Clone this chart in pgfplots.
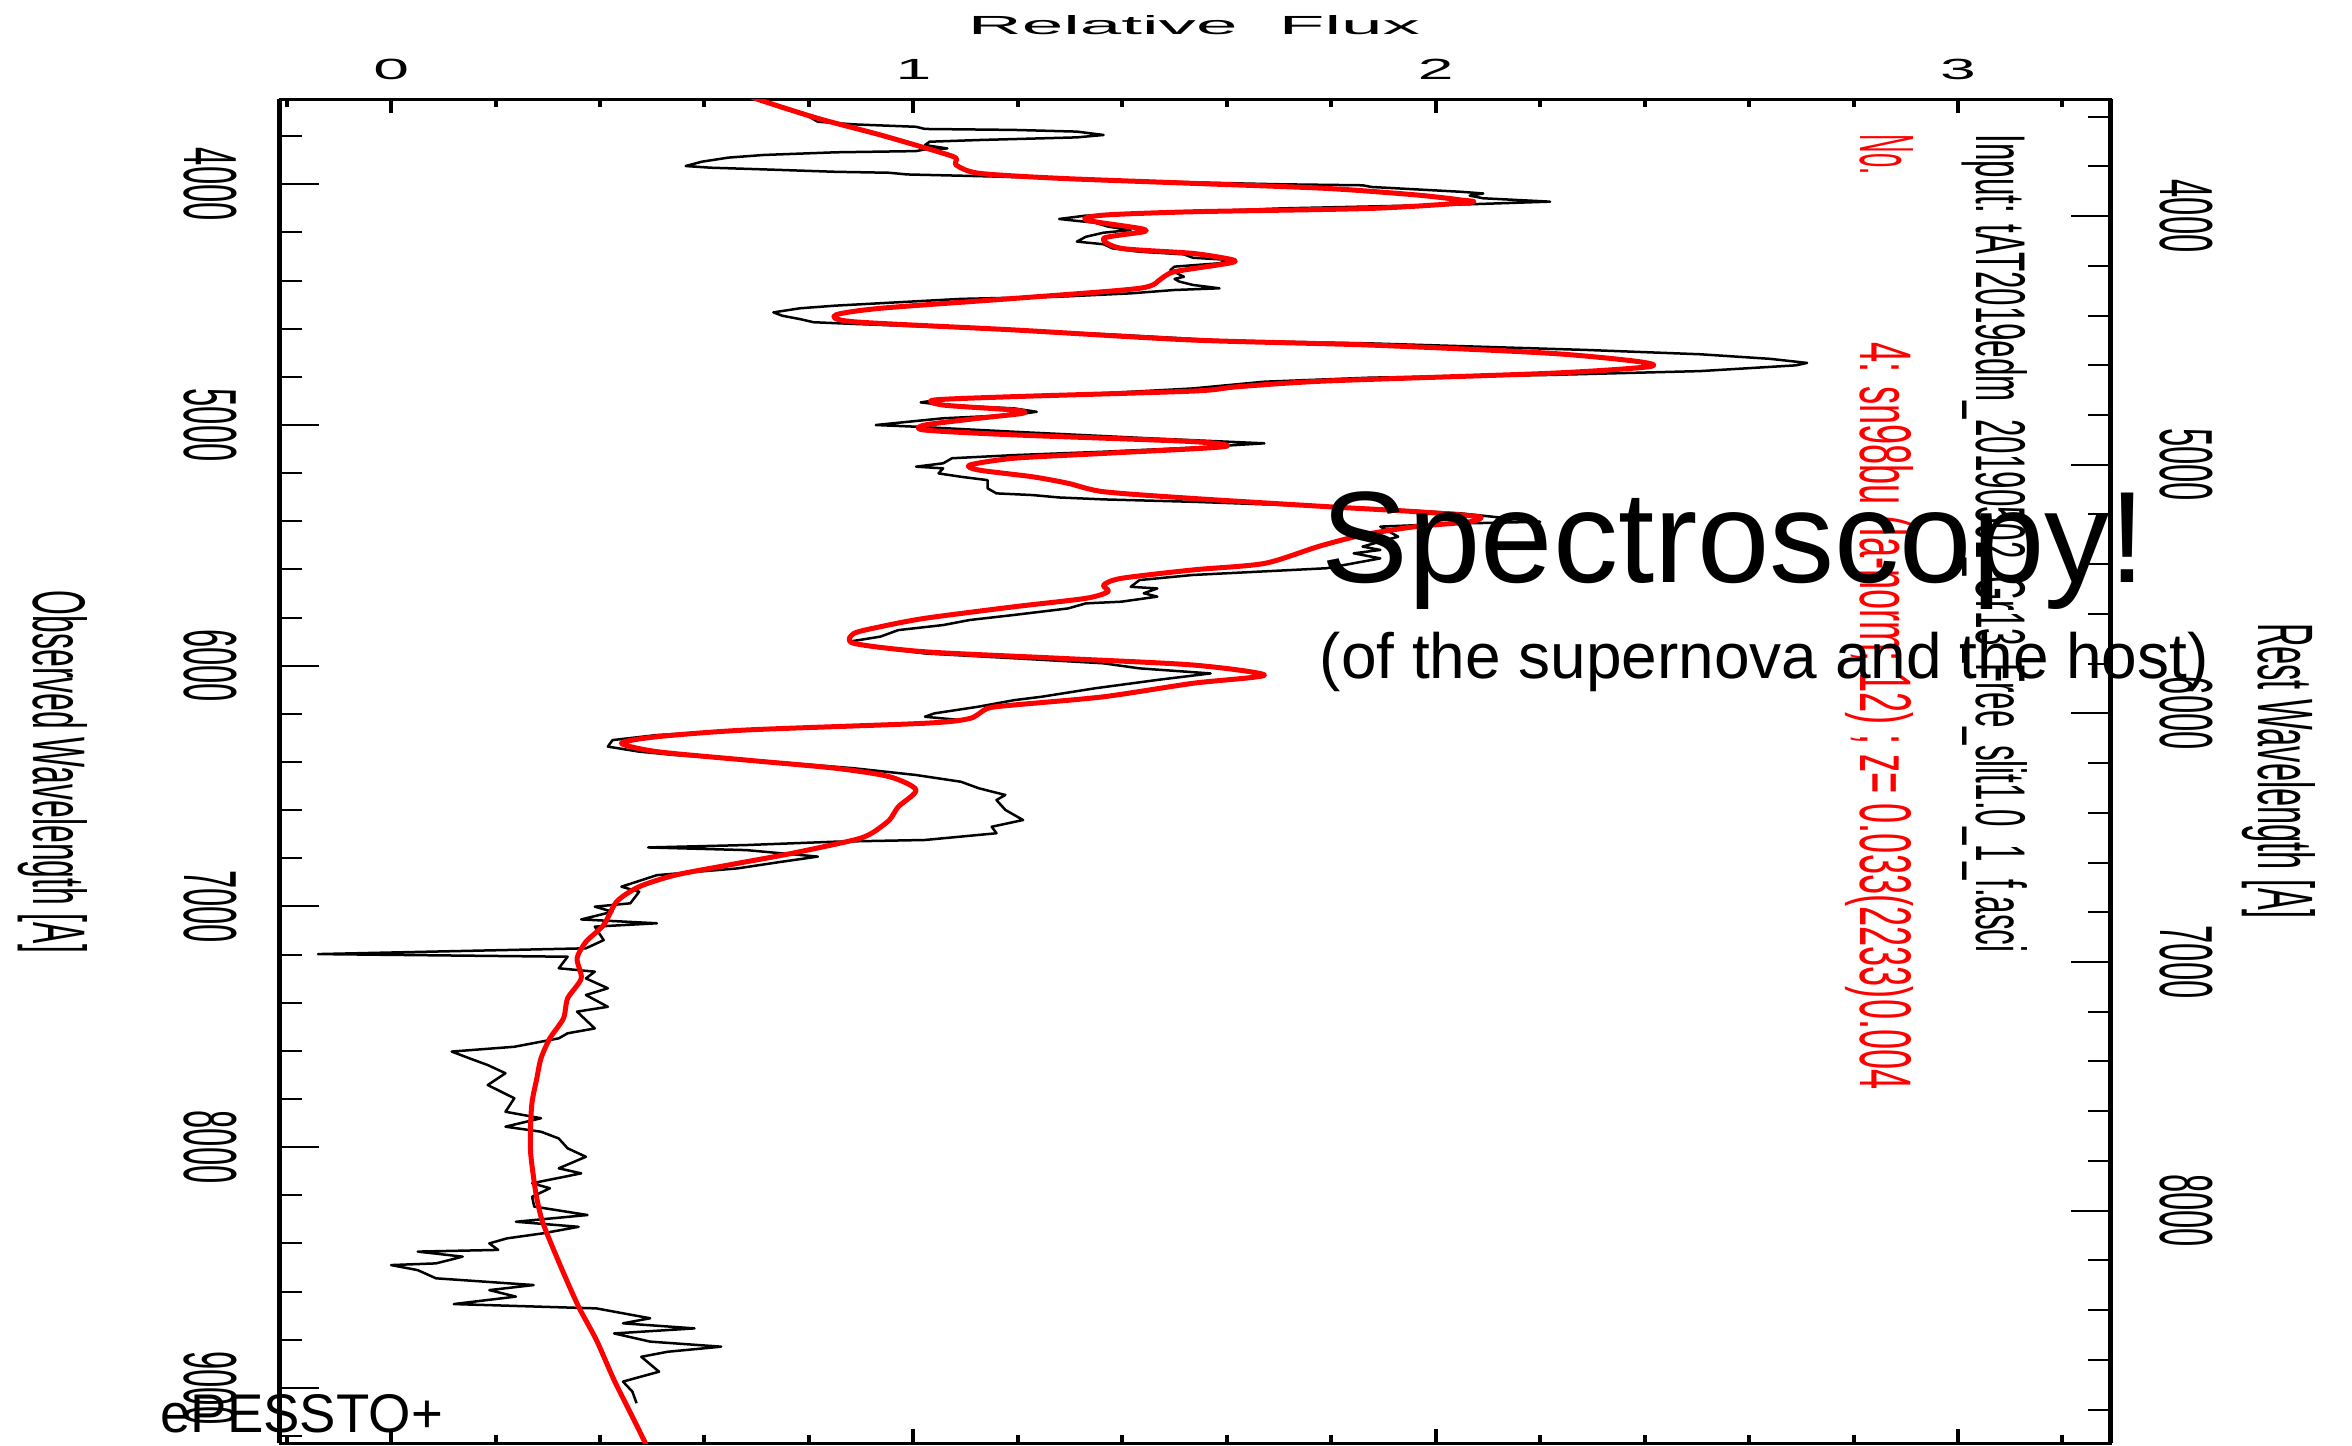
\documentclass[border=0pt]{standalone}
\usepackage{graphicx}
\usepackage{pgfplots}
\pgfplotsset{compat=1.18}
\usepackage{pgfplotstable}
\usepackage{fontspec}
\setmainfont{Liberation Sans}
\definecolor{tplred}{RGB}{255,0,0}
\newcommand\tickyfont{\fontsize{21.4pt}{21.4pt}\selectfont}
\newcommand\tickxfont{\fontsize{8.3pt}{8.3pt}\selectfont}

\pgfplotstableread{
f w
0.800 3719
0.817 3740
0.886 3751
1.005 3761
1.022 3770
1.193 3774
1.313 3781
1.364 3795
1.313 3805
1.125 3816
1.031 3823
1.022 3837
1.065 3851
1.022 3855
1.005 3862
0.851 3867
0.714 3878
0.646 3889
0.595 3906
0.564 3924
0.612 3931
0.714 3938
0.851 3948
0.954 3952
0.988 3959
1.125 3966
1.279 3975
1.535 3992
1.705 4000
1.860 4004
1.877 4011
2.048 4031
2.091 4038
2.065 4047
2.091 4058
2.219 4072
2.065 4083
1.705 4100
1.450 4121
1.330 4130
1.279 4144
1.313 4152
1.347 4159
1.373 4176
1.416 4190
1.364 4201
1.330 4218
1.313 4238
1.364 4249
1.381 4266
1.433 4280
1.518 4291
1.535 4305
1.603 4314
1.586 4328
1.500 4342
1.492 4356
1.518 4384
1.500 4393
1.509 4404
1.535 4418
1.586 4432
1.500 4439
1.416 4453
1.279 4467
1.091 4476
0.851 4504
0.783 4515
0.732 4532
0.749 4546
0.783 4560
0.809 4573
0.886 4580
1.022 4591
1.193 4605
1.398 4626
1.603 4650
1.877 4661
2.287 4688
2.506 4706
2.640 4725
2.711 4742
2.690 4752
2.506 4776
2.219 4792
1.877 4803
1.672 4820
1.535 4848
1.364 4868
1.193 4882
1.057 4892
1.014 4906
1.057 4917
1.193 4931
1.236 4945
1.193 4958
1.057 4972
0.928 5000
1.005 5007
1.193 5028
1.450 5055
1.672 5076
1.535 5094
1.364 5111
1.193 5125
1.074 5138
1.057 5159
1.005 5173
1.057 5180
1.048 5201
1.091 5215
1.142 5229
1.142 5263
1.159 5284
1.228 5291
1.279 5301
1.364 5309
1.535 5319
1.705 5332
1.877 5346
2.048 5367
2.200 5402
2.048 5409
1.894 5422
1.928 5464
1.860 5505
1.894 5519
1.843 5533
1.894 5554
1.791 5595
1.535 5623
1.433 5644
1.416 5672
1.467 5679
1.441 5699
1.467 5713
1.398 5734
1.330 5741
1.296 5762
1.193 5789
1.108 5810
1.057 5831
0.971 5852
0.937 5879
0.877 5900
0.920 5921
1.022 5949
1.193 5969
1.364 5990
1.433 6011
1.569 6032
1.467 6059
1.347 6094
1.245 6129
1.193 6143
1.125 6170
1.040 6198
1.022 6212
1.091 6226
1.022 6239
0.680 6267
0.509 6288
0.424 6309
0.415 6336
0.475 6357
0.543 6371
0.732 6399
0.886 6426
1.005 6454
1.091 6482
1.125 6509
1.176 6537
1.159 6558
1.176 6599
1.210 6641
1.150 6669
1.159 6696
1.022 6724
0.851 6731
0.680 6745
0.492 6755
0.680 6766
0.817 6793
0.749 6814
0.663 6842
0.509 6870
0.441 6918
0.475 6939
0.458 6987
0.390 7001
0.424 7022
0.364 7054
0.509 7070
0.390 7084
0.407 7140
0.373 7174
-0.140 7198
0.338 7209
0.321 7257
0.390 7271
0.373 7299
0.415 7340
0.373 7368
0.415 7417
0.356 7437
0.373 7472
0.390 7507
0.338 7527
0.321 7548
0.270 7569
0.236 7583
0.116 7603
0.150 7631
0.185 7659
0.219 7693
0.185 7742
0.236 7797
0.219 7853
0.287 7880
0.219 7915
0.287 7936
0.321 7964
0.338 8005
0.373 8040
0.321 8088
0.364 8109
0.270 8150
0.304 8171
0.270 8206
0.274 8247
0.376 8282
0.239 8310
0.359 8331
0.291 8358
0.222 8379
0.188 8400
0.205 8427
0.051 8434
0.137 8455
0.086 8483
0.000 8490
0.051 8511
0.086 8545
0.273 8573
0.188 8594
0.239 8621
0.120 8652
0.393 8670
0.496 8711
0.444 8732
0.581 8753
0.427 8774
0.496 8808
0.632 8829
0.530 8850
0.479 8871
0.513 8933
0.444 8974
0.462 9016
0.470 9064
}\obsdata

\pgfplotstableread{
f w
0.680 3620
0.697 3643
0.817 3726
0.937 3795
1.057 3871
1.082 3892
1.082 3920
1.125 3954
1.279 3975
1.535 3996
1.791 4017
1.962 4044
2.048 4065
2.065 4075
1.877 4100
1.535 4114
1.364 4128
1.330 4148
1.433 4183
1.441 4197
1.364 4224
1.398 4266
1.535 4287
1.612 4314
1.603 4328
1.500 4363
1.475 4391
1.433 4432
1.193 4474
0.937 4515
0.851 4543
0.886 4571
1.193 4605
1.535 4647
1.877 4668
2.219 4702
2.390 4737
2.407 4758
2.219 4785
1.791 4817
1.621 4841
1.535 4859
1.193 4882
1.040 4896
1.057 4917
1.193 4938
1.210 4951
1.125 4972
1.022 5000
1.022 5021
1.193 5041
1.535 5069
1.595 5090
1.364 5118
1.193 5138
1.108 5166
1.125 5187
1.228 5215
1.296 5242
1.364 5277
1.535 5305
1.791 5339
1.962 5360
2.082 5381
2.065 5402
1.962 5422
1.860 5457
1.775 5505
1.672 5575
1.535 5602
1.398 5637
1.364 5665
1.373 5692
1.330 5720
1.193 5755
1.022 5803
0.937 5838
0.886 5866
0.886 5907
1.022 5942
1.279 5969
1.535 5997
1.672 6039
1.535 6073
1.364 6129
1.193 6163
1.142 6177
1.108 6219
1.022 6239
0.680 6267
0.509 6295
0.441 6322
0.509 6357
0.680 6392
0.851 6426
0.954 6461
1.005 6516
0.971 6586
0.954 6641
0.920 6696
0.886 6724
0.766 6780
0.646 6828
0.544 6870
0.475 6918
0.432 6980
0.407 7077
0.373 7147
0.356 7216
0.364 7299
0.338 7382
0.330 7465
0.304 7548
0.287 7631
0.279 7714
0.270 7811
0.267 7908
0.267 8019
0.273 8130
0.279 8213
0.291 8317
0.325 8497
0.359 8663
0.393 8801
0.427 8968
0.462 9120
0.487 9231
0.500 9300
}\tpldata

\begin{document}
\begin{tikzpicture}
% main axis: data, flux ticks on top and bottom
\begin{axis}[
  name=main, at={(28mm,0.2mm)}, anchor=south west,
  scale only axis, width=183mm, height=134.4mm,
  xmin=-0.2127, xmax=3.291, ymin=3645.6, ymax=9229.3,
  y dir=reverse,
  axis line style={line width=0.3mm},
  tick align=inside,
  xtick={0,1,2,3}, xticklabels={0,1,2,3},
  minor xtick={-0.2,0.2,0.4,0.6,0.8,1.2,1.4,1.6,1.8,2.2,2.4,2.6,2.8,3.2},
  ytick=\empty,
  xticklabel pos=upper,
  major tick length=1.4mm, minor tick length=0.8mm,
  xtick style={line width=0.4mm, black},
  xticklabel style={font=\tickxfont, anchor=base, yshift=2mm, xscale=2.2, inner sep=0pt},
  clip=true,
]
\addplot[black, line width=0.25mm, line join=round] table[x=f, y=w] {\obsdata};
\addplot[tplred, line width=0.5mm, line join=round, smooth, tension=0.45] table[x=f, y=w] {\tpldata};
\end{axis}
% left observed wavelength axis
\begin{axis}[
  at={(28mm,0.2mm)}, anchor=south west,
  scale only axis, width=183mm, height=134.4mm,
  xmin=-0.2127, xmax=3.291, ymin=3645.6, ymax=9229.3,
  y dir=reverse, hide x axis, axis y line*=left,
  y axis line style={line width=0.5mm, -},
  tick align=inside,
  ytick={4000,5000,6000,7000,8000,9000},
  yticklabels={4000,5000,6000,7000,8000,9000},
  minor ytick={3800,4200,4400,4600,4800,5200,5400,5600,5800,6200,6400,6600,6800,7200,7400,7600,7800,8200,8400,8600,8800,9200},
  major tick length=3.9mm, minor tick length=2.2mm,
  ytick style={line width=0.2mm, black},
  yticklabel style={font=\tickyfont, xshift=-9.5mm, rotate=-90, xscale=0.435, anchor=base, inner sep=0pt},
]
\end{axis}
% right rest wavelength axis
\begin{axis}[
  at={(28mm,0.2mm)}, anchor=south west,
  scale only axis, width=183mm, height=134.4mm,
  xmin=-0.2127, xmax=3.291, ymin=3529.1, ymax=8934.5,
  y dir=reverse, hide x axis, axis y line*=right,
  y axis line style={line width=0.5mm, -},
  tick align=inside,
  ytick={4000,5000,6000,7000,8000},
  yticklabels={4000,5000,6000,7000,8000},
  minor ytick={3600,3800,4200,4400,4600,4800,5200,5400,5600,5800,6200,6400,6600,6800,7200,7400,7600,7800,8200,8400,8600,8800},
  major tick length=3.9mm, minor tick length=2.2mm,
  ytick style={line width=0.2mm, black},
  yticklabel style={font=\tickyfont, xshift=5mm, rotate=-90, xscale=0.435, anchor=base, inner sep=0pt},
]
\end{axis}
% labels
\node[anchor=base, inner sep=0pt] at (119.4mm,141.0mm) {\resizebox{45.2mm}{1.9mm}{Relative\ \ Flux}};
\node[rotate=-90, anchor=base, inner sep=0pt] at (3.3mm,67.3mm) {\resizebox{36.2mm}{5.4mm}{Observed Wavelength [A]}};
\node[rotate=-90, anchor=base, inner sep=0pt] at (225.8mm,67.4mm) {\resizebox{29.6mm}{5.7mm}{Rest Wavelength [A]}};
\node[rotate=-90, anchor=base west, inner sep=0pt] at (197.6mm,131.1mm) {\resizebox{81.8mm}{5.1mm}{Input: tAT2019edm\_20190502\_Gr13\_Free\_slit1.0\_1\_f.asci}};
\node[rotate=-90, anchor=base west, inner sep=0pt, text=tplred] at (186.0mm,131.1mm) {\resizebox{4.0mm}{5.3mm}{No.}};
\node[rotate=-90, anchor=base west, inner sep=0pt, text=tplred] at (186.0mm,110.3mm) {\resizebox{74.7mm}{5.3mm}{4: sn98bu (Ia-norm; 12) ; z= 0.033(2233)0.004}};
\node[anchor=base west, inner sep=0pt, font=\fontsize{37pt}{37pt}\selectfont] at (132.1mm,86.2mm) {Spectroscopy!};
\node[anchor=base west, inner sep=0pt, font=\fontsize{18.2pt}{18.2pt}\selectfont] at (131.9mm,76.7mm) {(of the supernova and the host)};
\node[anchor=base west, inner sep=0pt, font=\fontsize{15.5pt}{15.5pt}\selectfont] at (16.0mm,1.3mm) {ePESSTO+};
\pgfresetboundingbox
\path[use as bounding box] (0,0) rectangle (235.2mm,144.5mm);
\end{tikzpicture}
\end{document}
